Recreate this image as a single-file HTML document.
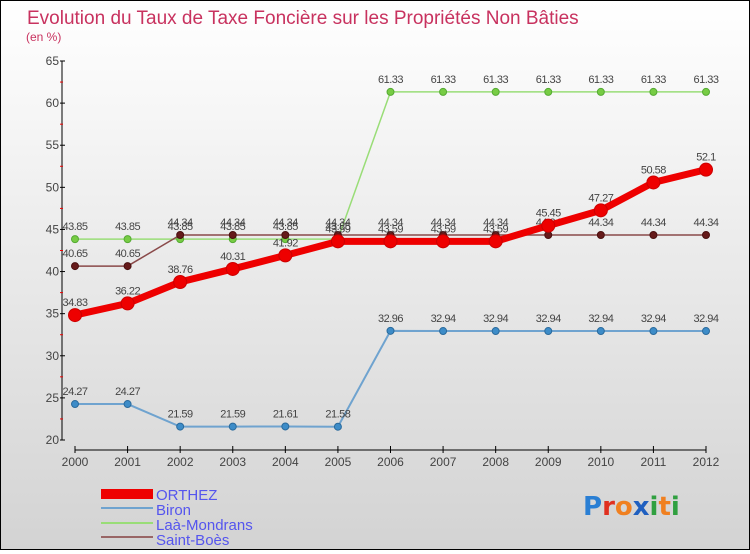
<!DOCTYPE html>
<html><head><meta charset="utf-8"><style>
html,body{margin:0;padding:0}
body{width:750px;height:550px;overflow:hidden;font-family:"Liberation Sans",sans-serif}
#wrap{position:absolute;left:0;top:0;width:748px;height:548px;border:1px solid #000;background:linear-gradient(#ffffff,#d3d3d3)}
</style></head><body>
<div id="wrap">
<svg id="chart" width="748" height="548" xmlns="http://www.w3.org/2000/svg">
<text x="26" y="23" font-size="19" fill="#c8325f">Evolution du Taux de Taxe Foncière sur les Propriétés Non Bâties</text>
<text x="25" y="40" font-size="12" fill="#c8325f">(en %)</text>
<g id="axes"></g>
<g id="series"></g>
<g id="legend">
<rect x="100" y="488" width="52" height="10" fill="#ee0000"/>
<text x="155" y="499" font-size="15" fill="#5555ee">ORTHEZ</text>
<rect x="100" y="506" width="52" height="2" fill="#6fa3cf"/>
<text x="155" y="514" font-size="15" fill="#5555ee">Biron</text>
<rect x="100" y="521" width="52" height="2" fill="#99dd77"/>
<text x="155" y="529" font-size="15" fill="#5555ee">Laà-Mondrans</text>
<rect x="100" y="535" width="52" height="2" fill="#996666"/>
<text x="155" y="544" font-size="15" fill="#5555ee">Saint-Boès</text>
</g>
<g font-size="26" font-weight="bold" font-family="'DejaVu Sans',sans-serif">
<text x="582" y="514"><tspan fill="#2a7fd4">P</tspan><tspan fill="#e03020">r</tspan><tspan fill="#f08020">o</tspan><tspan fill="#2060c0">x</tspan><tspan fill="#30a040">i</tspan><tspan fill="#f08020">t</tspan><tspan fill="#30a040">i</tspan></text>
</g>
</svg>
</div>
<script>
const years=[2000,2001,2002,2003,2004,2005,2006,2007,2008,2009,2010,2011,2012];
const yTicks=[20,25,30,35,40,45,50,55,60,65];
const orthez=[34.83,36.22,38.76,40.31,41.92,43.59,43.59,43.59,43.59,45.45,47.27,50.58,52.1];
const biron=[24.27,24.27,21.59,21.59,21.61,21.58,32.96,32.94,32.94,32.94,32.94,32.94,32.94];
const laa=[43.85,43.85,43.85,43.85,43.85,43.85,61.33,61.33,61.33,61.33,61.33,61.33,61.33];
const stboes=[40.65,40.65,44.34,44.34,44.34,44.34,44.34,44.34,44.34,44.34,44.34,44.34,44.34];
const NS='http://www.w3.org/2000/svg';
const x=i=>74+i*(631/(years.length-1));
const y=v=>439-(v-20)*(379/45);
function mk(tag,attrs,parent){const e=document.createElementNS(NS,tag);for(const k in attrs)e.setAttribute(k,attrs[k]);parent.appendChild(e);return e;}
const ax=document.getElementById('axes');
let l=mk('line',{x1:61,y1:y(65),x2:61,y2:y(20),stroke:'#000','stroke-width':1},ax);


l=mk('line',{x1:x(0),y1:449,x2:x(12),y2:449,stroke:'#000','stroke-width':1},ax);


yTicks.forEach((t,i)=>{
  mk('line',{x1:59,y1:y(t),x2:64,y2:y(t),stroke:'#000'},ax);
  if(i<yTicks.length-1)mk('line',{x1:59,y1:y(t+2.5),x2:62,y2:y(t+2.5),stroke:'#e00'},ax);
  const tx=mk('text',{x:58,y:y(t)+4,'font-size':12,fill:'#444','text-anchor':'end'},ax);
  tx.textContent=t;
  
  
});
years.forEach((yr,i)=>{
  mk('line',{x1:x(i),y1:445,x2:x(i),y2:452,stroke:'#000'},ax);
  const tx=mk('text',{x:x(i),y:465,'font-size':12,fill:'#444','text-anchor':'middle'},ax);
  tx.textContent=yr;
  
  
});
const sg=document.getElementById('series');
function draw(vals,name,color,w,r,dot,dotStroke){
  const g=mk('g',{},sg);
  
  
  const p=mk('polyline',{points:vals.map((v,i)=>x(i)+','+y(v)).join(' '),fill:'none',stroke:color,'stroke-width':w},g);
  
  
  vals.forEach((v,i)=>{
    const c=mk('circle',{cx:x(i),cy:y(v),r:r,fill:dot,stroke:dotStroke,'stroke-width':1},g);
    
    
    const t=mk('text',{x:x(i),y:y(v)-9,'font-size':11,fill:'#444','text-anchor':'middle','letter-spacing':'-0.5'},g);
    t.textContent=v;
    
    
  });
}
draw(biron,'biron','#6fa3cf',2,3.5,'#3d8cc8','#2a6a9c');
draw(laa,'laa-mondrans','#99dd77',1.5,3.5,'#77cc44','#55aa33');
draw(stboes,'saint-boes','#8a4a4a',1.5,3.5,'#661a1a','#4a1010');
draw(orthez,'orthez','#ee0000',7,6.5,'#ee0000','#cc0000');
</script>
</body></html>
